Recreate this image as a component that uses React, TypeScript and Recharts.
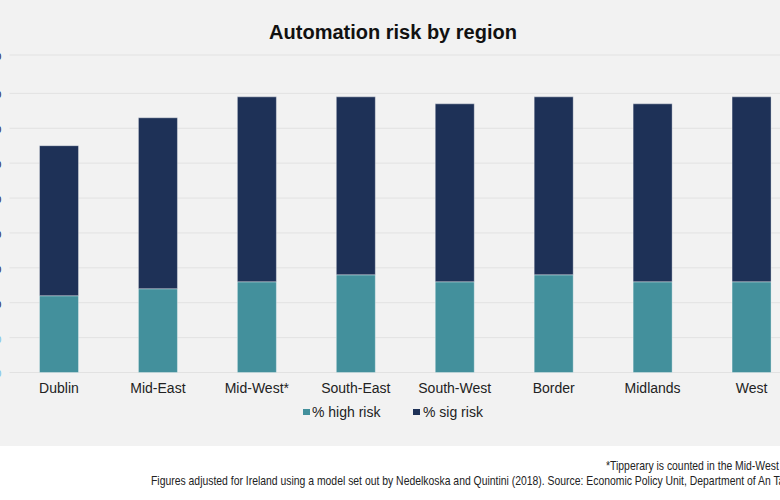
import React from "react";
import { BarChart, Bar, XAxis, YAxis, CartesianGrid } from "recharts";

const regions = ["Dublin", "Mid-East", "Mid-West*", "South-East", "South-West", "Border", "Midlands", "West"];
const highRisk = [22, 24, 26, 28, 26, 28, 26, 26];
const sigRisk = [43, 49, 53, 51, 51, 51, 51, 53];
const yTicks = [0, 10, 20, 30, 40, 50, 60, 70, 80, 91];

const data = regions.map((r, i) => ({ region: r, high: highRisk[i], sig: sigRisk[i] }));

const TEAL = "#43909c";
const NAVY = "#1e3157";

const YTick = (props: any) => {
  const { x, y, payload } = props;
  const fill = payload.value < 20 ? "#7fc4e8" : NAVY;
  return (
    <text x={x} y={y} dy="0.35em" textAnchor="end" fontSize={14} fill={fill} fontFamily="Liberation Sans, Arial, sans-serif">
      {payload.value}%
    </text>
  );
};

export default function App() {
  const font = "Liberation Sans, Arial, sans-serif";
  const noteStyle: React.CSSProperties = {
    position: "absolute",
    fontSize: 13,
    lineHeight: "15px",
    color: "#222222",
    whiteSpace: "nowrap",
    fontFamily: "Liberation Sans Narrow, Arial Narrow, Liberation Sans, sans-serif",
    transform: "scaleX(0.8)",
    transformOrigin: "left top",
  };
  return (
    <div style={{ position: "absolute", left: 0, top: 0, width: 780, height: 500, overflow: "hidden", background: "#ffffff", fontFamily: font }}>
      <div style={{ position: "absolute", left: 0, top: 0, width: 780, height: 446, background: "#f2f2f2" }} />
      <div style={{ position: "absolute", left: 0, top: 20, width: 786, textAlign: "center", fontSize: 20, lineHeight: "24px", fontWeight: "bold", color: "#111111" }}>
        Automation risk by region
      </div>
      <div style={{ position: "absolute", left: -60, top: 0 }}>
        <BarChart width={861} height={446} data={data} margin={{ top: 55, right: 0, left: 0, bottom: 0 }} barCategoryGap="30%">
          <CartesianGrid vertical={false} stroke="#e2e2e2" strokeWidth={1} />
          <YAxis width={69.5} domain={[0, 91]} ticks={yTicks} axisLine={false} tickLine={false} tick={<YTick />} interval={0} />
          <XAxis dataKey="region" height={73.5} axisLine={false} tickLine={false} interval={0} tickMargin={5}
            tick={{ fontSize: 14, fill: "#222222", fontFamily: font }} />
          <Bar dataKey="high" stackId="a" fill={TEAL} barSize={39} stroke="#ffffff" strokeOpacity={0.35} strokeWidth={1} isAnimationActive={false} />
          <Bar dataKey="sig" stackId="a" fill={NAVY} barSize={39} stroke="#ffffff" strokeOpacity={0.35} strokeWidth={1} isAnimationActive={false} />
        </BarChart>
      </div>
      <div style={{ position: "absolute", left: 303, top: 409, width: 7, height: 6, background: TEAL }} />
      <div style={{ position: "absolute", left: 312, top: 403, fontSize: 14, lineHeight: "18px", color: "#222222", whiteSpace: "nowrap" }}>% high risk</div>
      <div style={{ position: "absolute", left: 413, top: 409, width: 7, height: 6, background: NAVY }} />
      <div style={{ position: "absolute", left: 423, top: 403, fontSize: 14, lineHeight: "18px", color: "#222222", whiteSpace: "nowrap" }}>% sig risk</div>
      <div style={{ ...noteStyle, left: 606, top: 458 }}>
        *Tipperary is counted in the Mid-West
      </div>
      <div style={{ ...noteStyle, left: 151, top: 473 }}>
        Figures adjusted for Ireland using a model set out by Nedelkoska and Quintini (2018). Source: Economic Policy Unit, Department of An Taoiseach
      </div>
    </div>
  );
}
